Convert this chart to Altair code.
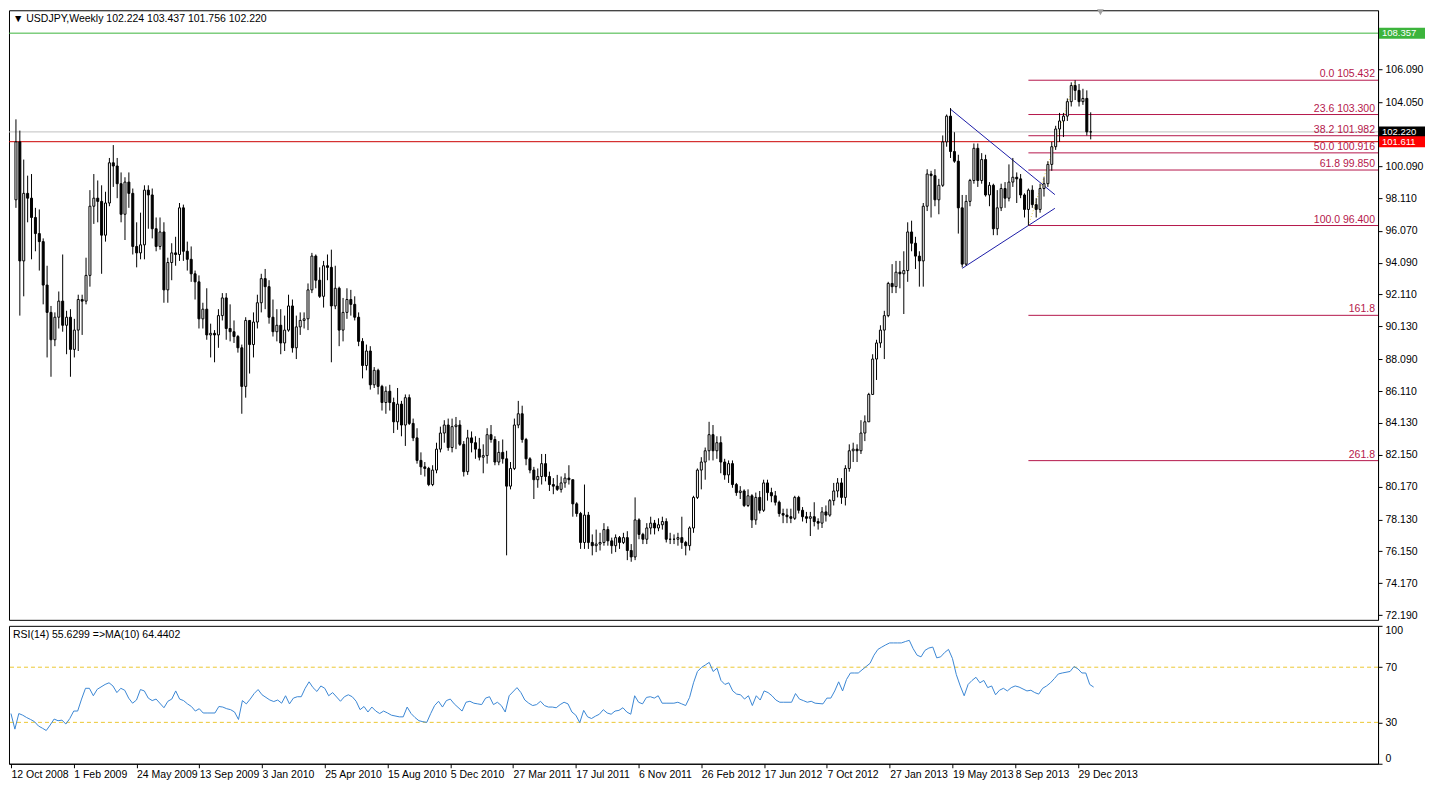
import json
import pandas as pd
import altair as alt

# ---------------- data ----------------
FIRST_OPEN = 98.0
close = [
    101.6, 94.2, 98.4, 98.1, 96.9, 95.9, 95.4, 92.7, 91.0, 89.3,
    90.7, 91.7, 90.2, 90.7, 88.7, 89.9, 91.8, 91.7, 93.3, 97.6,
    98.1, 97.9, 95.8, 97.8, 100.3, 100.1, 99.0, 97.1, 99.1, 98.4,
    95.1, 94.7, 95.2, 98.6, 98.3, 96.2, 95.1, 96.0, 92.4, 94.1,
    94.7, 94.6, 97.5, 94.8, 94.3, 93.4, 92.9, 90.6, 91.2, 89.6,
    89.7, 89.6, 90.8, 91.9, 90.0, 89.8, 89.5, 88.8, 86.4, 90.5,
    89.0, 90.4, 91.6, 93.1, 92.6, 90.7, 89.8, 90.2, 89.1, 89.9,
    91.4, 88.8, 90.1, 90.5, 90.6, 92.4, 94.5, 93.0, 92.0, 93.9,
    93.8, 91.4, 92.5, 89.9, 91.0, 91.8, 91.5, 90.7, 89.2, 87.7,
    88.6, 86.5, 87.4, 86.4, 85.4, 86.1, 85.4, 84.2, 85.3, 84.0,
    85.7, 84.1, 83.2, 81.8, 81.4, 81.3, 80.3, 81.2, 82.5, 83.5,
    84.0, 82.6, 83.9, 84.0, 82.8, 81.1, 83.2, 82.9, 82.5, 82.0,
    82.1, 83.4, 83.1, 81.7, 82.3, 81.9, 80.2, 81.3, 84.0, 84.7,
    83.1, 81.9, 81.2, 80.6, 80.8, 81.6, 80.8, 80.3, 80.2, 80.0,
    80.4, 80.7, 80.6, 79.1, 78.5, 76.7, 78.4, 76.7, 76.5, 76.6,
    76.7, 77.5, 76.8, 76.5, 77.0, 76.7, 77.0, 76.2, 75.8, 78.1,
    77.2, 76.9, 77.6, 77.9, 77.6, 77.8, 78.0, 76.9, 76.9, 76.9,
    77.0, 76.7, 76.5, 77.6, 79.5, 81.2, 81.7, 82.4, 83.4, 82.4,
    82.9, 81.7, 80.9, 81.6, 80.3, 79.8, 79.9, 79.0, 79.6, 78.1,
    79.5, 78.7, 80.4, 79.8, 79.6, 79.2, 78.5, 78.4, 78.3, 78.2,
    79.5, 78.7, 78.3, 78.2, 78.3, 78.0, 77.9, 78.6, 78.4, 79.3,
    79.9, 80.4, 79.5, 81.3, 82.4, 82.5, 82.4, 83.5, 84.2, 85.9,
    88.1, 89.1, 89.9, 90.8, 92.8, 92.6, 93.5, 93.4, 93.6, 96.0,
    95.3, 94.5, 94.2, 97.6, 99.6, 99.5, 98.0, 98.9, 101.6, 103.2,
    101.0, 100.4, 97.5, 94.0, 97.9, 99.2, 101.2, 99.2, 100.5, 98.3,
    98.9, 96.2, 97.5, 98.7, 98.1, 99.1, 99.4, 99.3, 98.3, 97.4,
    98.6, 97.7, 97.4, 98.7, 99.0, 100.2, 101.3, 102.4, 102.9, 103.2,
    104.1, 105.1, 104.8, 104.1, 104.3, 102.224, 102.220,
]
high = [
    103.0, 102.3, 100.5, 99.5, 99.6, 97.5, 97.4, 95.6, 93.9, 91.4,
    91.0, 92.3, 94.6, 91.1, 91.2, 90.6, 92.1, 92.1, 94.4, 98.6,
    99.6, 99.2, 98.9, 98.5, 100.6, 101.4, 100.6, 99.7, 99.4, 99.7,
    98.7, 96.6, 97.2, 98.9, 98.9, 98.7, 96.9, 96.9, 96.6, 94.4,
    95.3, 95.7, 97.8, 97.7, 95.4, 95.1, 93.6, 93.3, 91.6, 92.5,
    90.3, 89.9, 91.2, 92.2, 92.2, 91.5, 90.5, 89.6, 89.0, 90.7,
    90.5, 91.0, 92.1, 93.4, 93.7, 93.0, 91.8, 91.2, 91.2, 90.8,
    92.1, 91.8, 90.8, 91.0, 91.0, 92.8, 94.7, 94.6, 93.8, 94.2,
    94.6, 94.9, 93.9, 92.6, 91.9, 92.5, 92.4, 92.0, 91.0, 89.4,
    89.0, 88.9, 87.6, 87.5, 86.5, 86.4, 86.5, 85.7, 86.3, 85.5,
    85.9, 85.9, 84.4, 83.8, 82.3, 81.7, 81.4, 81.5, 82.9, 83.9,
    84.3, 84.4, 84.4, 84.5, 84.3, 83.0, 83.7, 83.6, 83.3, 83.2,
    82.8, 83.8, 84.0, 83.3, 83.0, 83.1, 82.4, 81.7, 84.4, 85.5,
    85.2, 83.2, 82.0, 81.4, 81.3, 82.2, 82.2, 81.1, 80.7, 80.9,
    80.8, 81.0, 81.5, 80.6, 79.2, 78.6, 80.3, 78.6, 77.2, 77.5,
    77.3, 77.9, 77.7, 77.0, 77.2, 77.1, 77.3, 77.4, 76.6, 79.5,
    78.2, 77.3, 77.9, 78.3, 78.1, 78.2, 78.3, 78.2, 77.3, 77.2,
    77.3, 78.3, 76.8, 77.7, 79.6, 81.3, 82.0, 82.6, 84.2, 84.0,
    83.3, 83.3, 81.9, 81.8, 81.8, 80.4, 80.2, 80.0, 80.0, 79.7,
    79.8, 79.9, 80.6, 80.6, 80.1, 79.9, 79.3, 78.8, 78.8, 78.8,
    79.6, 79.6, 78.9, 78.6, 78.6, 79.2, 78.2, 78.9, 79.0, 79.4,
    80.4, 80.7, 80.7, 81.5, 82.8, 82.9, 82.8, 84.3, 84.6, 86.0,
    88.4, 89.3, 90.2, 91.1, 92.9, 94.0, 94.2, 94.2, 94.8, 96.6,
    96.7, 95.7, 94.8, 97.8, 99.9, 99.8, 99.9, 99.3, 102.0, 103.3,
    103.7, 102.2, 100.8, 98.3, 98.3, 99.3, 101.5, 101.5, 100.9, 100.8,
    99.1, 99.0, 98.6, 99.0, 99.1, 100.2, 100.6, 99.7, 99.6, 98.4,
    98.7, 98.9, 98.1, 99.0, 99.4, 100.4, 101.6, 102.6, 103.4, 103.4,
    104.3, 105.3, 105.432, 105.2, 104.9, 104.8, 103.437,
]
low = [
    97.5, 90.8, 92.0, 96.6, 94.3, 94.8, 93.6, 91.5, 88.2, 87.0,
    88.9, 90.0, 89.8, 88.4, 87.0, 88.2, 88.6, 89.6, 91.5, 92.6,
    96.5, 96.6, 93.4, 95.4, 97.6, 98.8, 98.1, 96.6, 95.5, 97.5,
    94.6, 93.8, 94.3, 94.3, 96.2, 95.6, 94.8, 94.9, 91.6, 91.6,
    93.0, 93.9, 94.2, 94.2, 93.6, 92.9, 91.8, 90.0, 90.0, 89.3,
    88.2, 87.9, 88.8, 90.5, 89.3, 89.2, 89.1, 88.5, 84.7, 85.7,
    87.2, 88.2, 90.0, 91.0, 91.2, 90.3, 89.5, 89.2, 88.4, 88.6,
    89.8, 88.5, 88.1, 89.6, 90.0, 89.9, 92.2, 92.5, 91.9, 91.3,
    93.0, 87.9, 91.2, 88.9, 89.2, 90.6, 90.8, 90.5, 88.9, 86.9,
    87.4, 86.2, 86.3, 85.9, 84.9, 84.7, 84.9, 83.5, 83.7, 83.3,
    82.7, 84.0, 83.0, 81.6, 80.9, 80.8, 80.2, 80.2, 81.0, 82.3,
    82.9, 82.4, 82.3, 82.5, 82.7, 80.8, 80.9, 82.3, 81.9, 81.8,
    81.0, 81.6, 82.9, 81.5, 81.5, 81.6, 75.9, 80.0, 81.2, 83.8,
    82.9, 81.5, 81.0, 79.4, 80.1, 80.3, 80.5, 79.9, 79.7, 79.9,
    79.8, 80.1, 80.3, 78.3, 78.3, 76.3, 76.3, 76.3, 75.9, 76.1,
    76.2, 76.5, 76.5, 76.0, 76.1, 76.3, 76.6, 75.6, 75.5, 75.6,
    76.9, 76.6, 76.6, 77.2, 77.2, 77.4, 77.5, 76.7, 76.6, 76.6,
    76.5, 76.3, 75.9, 76.2, 77.3, 79.4, 80.0, 80.6, 81.8, 81.8,
    81.9, 81.0, 80.6, 80.4, 80.1, 79.6, 79.4, 78.9, 78.9, 77.6,
    77.8, 78.5, 78.6, 79.3, 79.2, 79.0, 78.3, 77.9, 77.9, 77.9,
    78.1, 78.5, 78.0, 77.9, 77.1, 77.7, 77.5, 77.6, 78.0, 78.3,
    79.0, 79.5, 79.1, 79.0, 81.1, 81.7, 81.7, 82.2, 83.0, 84.2,
    85.9, 86.8, 88.8, 88.1, 90.7, 92.2, 92.2, 92.5, 90.9, 92.9,
    94.8, 93.7, 92.6, 92.6, 97.3, 96.9, 97.6, 97.1, 98.8, 101.3,
    100.6, 100.3, 95.9, 93.8, 93.9, 97.6, 99.0, 98.8, 99.0, 98.2,
    97.6, 95.8, 95.8, 97.3, 97.5, 97.9, 98.8, 97.8, 98.1, 96.9,
    96.4, 97.5, 96.9, 97.2, 98.2, 98.8, 99.8, 101.1, 101.6, 101.9,
    102.9, 103.8, 104.2, 103.8, 103.9, 102.0, 101.756,
]

rsi_week = [
    0, 1, 2, 3, 4, 5, 6, 7, 8, 9, 10, 11, 12, 13, 14, 15, 16, 17, 18, 19,
    20, 21, 22, 24, 25, 26, 27, 28, 29, 30, 31, 32, 33, 34, 35, 36, 37, 39, 40, 41,
    42, 43, 44, 45, 46, 47, 48, 49, 50, 52, 53, 54, 55, 56, 57, 58, 59, 60, 61, 62,
    63, 64, 66, 67, 68, 69, 70, 71, 72, 73, 74, 75, 76, 77, 78, 79, 80, 81, 82, 84,
    85, 86, 87, 88, 89, 90, 91, 92, 93, 94, 95, 96, 97, 99, 100, 101, 102, 103, 104, 105,
    106, 107, 108, 109, 110, 111, 112, 113, 115, 116, 117, 118, 119, 120, 121, 122, 123, 124, 125, 126,
    127, 129, 130, 131, 132, 133, 134, 135, 136, 137, 138, 139, 140, 141, 142, 143, 144, 145, 146, 147,
    148, 149, 150, 151, 152, 153, 154, 155, 156, 157, 158, 159, 160, 161, 162, 163, 164, 165, 166, 167,
    169, 170, 171, 172, 173, 174, 175, 176, 177, 178, 179, 180, 181, 182, 183, 184, 185, 186, 187, 188,
    189, 190, 191, 192, 193, 194, 195, 196, 197, 199, 200, 201, 202, 203, 204, 205, 207, 208, 209, 210,
    211, 212, 213, 214, 215, 216, 218, 219, 220, 221, 222, 223, 224, 225, 226, 227, 228, 229, 230, 231,
    232, 233, 234, 235, 236, 237, 238, 239, 240, 241, 242, 243, 244, 245, 246, 247, 248, 249, 250, 251,
    252, 253, 254, 255, 256, 257, 259, 260, 261, 262, 263, 264, 265, 266, 267, 268, 270, 271, 272, 273,
    274, 275, 276,
]
rsi_value = [
    36.4, 25.1, 36.4, 35.2, 33.5, 32.1, 30.5, 27.4, 25.8, 24.1, 28.1, 32.4, 31.2, 31.6, 28.8, 32.8, 38.2, 38.2, 46.9, 54.7,
    54.7, 49.3, 54.0, 57.5, 58.7, 56.4, 51.6, 54.7, 53.3, 47.6, 43.9, 46.2, 53.8, 52.8, 47.6, 45.8, 46.9, 40.6, 45.3, 46.9,
    52.8, 46.9, 45.8, 43.4, 41.5, 38.2, 39.9, 36.8, 36.8, 36.8, 41.5, 41.1, 39.9, 39.2, 37.5, 32.1, 45.8, 43.4, 46.9, 50.9,
    53.8, 50.0, 46.2, 45.1, 46.2, 43.9, 49.3, 43.4, 47.6, 48.6, 48.6, 54.7, 59.4, 55.2, 52.4, 56.4, 54.7, 49.3, 51.6, 45.3,
    48.6, 50.0, 48.6, 45.3, 39.2, 41.5, 37.5, 41.1, 38.2, 36.4, 38.2, 36.8, 35.2, 34.0, 34.0, 41.1, 36.4, 33.5, 31.2, 30.5,
    30.0, 36.4, 42.2, 45.3, 41.1, 45.8, 46.9, 43.4, 38.2, 44.6, 45.3, 43.9, 43.4, 42.9, 47.6, 48.6, 42.9, 44.6, 42.2, 37.5,
    49.3, 55.2, 51.6, 46.2, 43.9, 42.2, 42.9, 45.3, 42.2, 41.1, 41.1, 40.6, 42.9, 44.6, 43.4, 37.5, 35.2, 29.8, 38.7, 34.0,
    32.8, 34.5, 35.9, 39.2, 36.8, 35.9, 38.2, 38.7, 40.6, 37.5, 35.9, 49.3, 44.6, 43.4, 48.1, 48.6, 47.6, 49.3, 43.9, 43.9,
    43.9, 44.6, 43.4, 42.2, 48.1, 58.7, 66.9, 69.8, 71.6, 73.5, 66.9, 69.3, 60.4, 57.5, 58.7, 52.8, 50.5, 50.0, 46.9, 49.3,
    42.2, 49.3, 46.2, 52.8, 51.6, 49.3, 46.2, 44.6, 44.6, 44.6, 50.9, 46.9, 45.8, 44.6, 45.3, 43.9, 43.4, 47.6, 47.6, 52.8,
    59.4, 52.8, 61.1, 65.8, 65.8, 65.8, 70.5, 72.8, 78.7, 82.9, 84.6, 86.2, 87.6, 87.6, 87.6, 87.6, 88.6, 89.5, 83.4, 78.7,
    77.5, 82.2, 83.9, 84.6, 76.8, 77.5, 80.6, 82.9, 76.4, 64.6, 56.4, 49.3, 57.5, 60.4, 62.7, 58.7, 60.4, 55.2, 56.4, 50.0,
    53.3, 54.7, 52.8, 55.2, 56.4, 55.6, 52.8, 53.3, 51.6, 50.5, 54.7, 56.4, 58.7, 61.8, 65.1, 65.8, 66.9, 70.5, 68.8, 65.8,
    65.8, 57.5, 55.6,
]

date_labels = [
    "12 Oct 2008", "1 Feb 2009", "24 May 2009", "13 Sep 2009", "3 Jan 2010",
    "25 Apr 2010", "15 Aug 2010", "5 Dec 2010", "27 Mar 2011", "17 Jul 2011",
    "6 Nov 2011", "26 Feb 2012", "17 Jun 2012", "7 Oct 2012", "27 Jan 2013",
    "19 May 2013", "8 Sep 2013", "29 Dec 2013",
]
date_label_weeks = [0, 16, 32, 48, 64, 80, 96, 112, 128, 144, 160, 176, 192, 208, 224, 240, 256, 272]
# 102.070 and 108.070 are hidden under the price tags in the reference
price_ticks = [72.19, 74.17, 76.15, 78.13, 80.17, 82.15, 84.13, 86.11, 88.09, 90.13,
               92.11, 94.09, 96.07, 98.11, 100.09, 104.05, 106.09]
rsi_ticks = [0, 30, 70, 100]
rsi_levels = [30, 70]

fib_prices = [105.432, 103.300, 101.982, 100.916, 99.850, 96.400, 90.818, 81.786]
fib_texts = ["0.0 105.432", "23.6 103.300", "38.2 101.982", "50.0 100.916",
             "61.8 99.850", "100.0 96.400", "161.8", "261.8"]
fib_start_week = [260] * 8

hline_prices = [108.357, 102.220, 101.611]
hline_colors = ["#3cb43c", "#c0c0c0", "#cc0000"]
tag_texts = ["108.357", "102.220", "101.611"]
tag_colors = ["#3cb43c", "#000000", "#ff0000"]

tri_upper_week = [240, 266.8]
tri_upper_price = [103.63, 98.32]
tri_lower_week = [243, 266.8]
tri_lower_price = [93.74, 97.47]
fib_trend_week = [260, 272]
fib_trend_price = [96.40, 105.432]

header = "\u25BC  USDJPY,Weekly  102.224 103.437 101.756 102.220"
rsi_header = "RSI(14) 55.6299  =>MA(10) 64.4402"

# ---------------- layout ----------------
W = 1370
HM = 610
HR = 138
FONT = "Liberation Sans"
FIB_COLOR = "#b5174b"

xs = alt.Scale(domain=[-0.5, 348.5], nice=False, zero=False)
ys = alt.Scale(domain=[71.89, 109.78], nice=False, zero=False)
rs = alt.Scale(domain=[0, 100], nice=False, zero=False)

y_axis = alt.Axis(orient="right", values=price_ticks, format=".3f", tickSize=4,
                  labelPadding=3, title=None, grid=False, labelOverlap=False)
X = lambda f: alt.X(f, type="quantitative", scale=xs, axis=None)
Y = lambda f: alt.Y(f, type="quantitative", scale=ys, axis=y_axis)

candles = pd.DataFrame({
    "week": list(range(len(close))),
    "open": [FIRST_OPEN] + close[:-1],
    "high": high,
    "low": low,
    "close": close,
})

hl = pd.DataFrame({"price": hline_prices, "color": hline_colors,
                   "tag": tag_texts, "tagcolor": tag_colors})
fib = pd.DataFrame({"price": fib_prices, "text": fib_texts, "week": fib_start_week})

hlines = alt.Chart(hl).mark_rule(strokeWidth=1).encode(
    y=Y("price"), color=alt.Color("color:N", scale=None))

fib_rules = alt.Chart(fib).mark_rule(strokeWidth=1, color=FIB_COLOR).encode(
    x=X("week"), x2=alt.value(W), y=Y("price"))
fib_labels = alt.Chart(fib).mark_text(
    align="right", baseline="bottom", dy=-1, color=FIB_COLOR, font=FONT, fontSize=10.5
).encode(x=alt.value(W - 3), y=Y("price"), text="text:N")

tri_df = pd.DataFrame({
    "week": tri_upper_week + tri_lower_week,
    "price": tri_upper_price + tri_lower_price,
    "line": ["upper", "upper", "lower", "lower"],
})
tri = alt.Chart(tri_df).mark_line(color="#1c1ca8", strokeWidth=1).encode(
    x=X("week"), y=Y("price"), detail="line:N")

ft_df = pd.DataFrame({"week": fib_trend_week, "price": fib_trend_price})
fib_trend = alt.Chart(ft_df).mark_line(color="#e3cf4f", strokeWidth=1, strokeDash=[1, 2]).encode(
    x=X("week"), y=Y("price"))

wicks = alt.Chart(candles).mark_rule(color="black", strokeWidth=1).encode(
    x=X("week"), y=Y("low"), y2="high")
bodies = alt.Chart(candles).mark_bar(size=2, stroke="black", strokeWidth=1).encode(
    x=X("week"), y=Y("open"), y2="close",
    fill=alt.condition("datum.close >= datum.open", alt.value("white"), alt.value("black")))

tags = alt.Chart(hl).mark_tick(orient="horizontal", size=46, thickness=11, opacity=1).encode(
    x=alt.value(W + 24), y=Y("price"), color=alt.Color("tagcolor:N", scale=None))
tag_labels = alt.Chart(hl).mark_text(
    align="left", baseline="middle", color="white", font=FONT, fontSize=9.5
).encode(x=alt.value(W + 4), y=Y("price"), text="tag:N")

head = alt.Chart(pd.DataFrame({"t": [header]})).mark_text(
    align="left", baseline="top", font=FONT, fontSize=10.5, color="black"
).encode(x=alt.value(4), y=alt.value(4), text="t:N")

marker = alt.Chart(pd.DataFrame({"week": [278.5]})).mark_point(
    shape="triangle-down", filled=True, color="#a0a0a0", size=45, opacity=1
).encode(x=X("week"), y=alt.value(2))

main = alt.layer(hlines, fib_rules, fib_labels, tri, fib_trend, wicks, bodies,
                 tags, tag_labels, head, marker).properties(width=W, height=HM)

# ---------------- RSI panel ----------------
label_expr = json.dumps(date_labels) + "[round(datum.value / 16)]"
x_axis = alt.Axis(values=date_label_weeks, labelExpr=label_expr, labelAlign="left",
                  tickSize=4, labelPadding=2, title=None, grid=False,
                  labelOverlap=False, labelFlush=False)
r_axis = alt.Axis(orient="right", values=rsi_ticks, format="d", tickSize=4,
                  labelPadding=3, title=None, grid=False, labelFlush=True)

rsi_df = pd.DataFrame({"week": rsi_week, "rsi": rsi_value})
lev = alt.Chart(pd.DataFrame({"lvl": rsi_levels})).mark_rule(
    color="#ecc832", strokeWidth=1, strokeDash=[4, 3]
).encode(y=alt.Y("lvl:Q", scale=rs, axis=r_axis))
rsi_line = alt.Chart(rsi_df).mark_line(color="#3b87d4", strokeWidth=1).encode(
    x=alt.X("week:Q", scale=xs, axis=x_axis),
    y=alt.Y("rsi:Q", scale=rs, axis=r_axis))
rsi_head = alt.Chart(pd.DataFrame({"t": [rsi_header]})).mark_text(
    align="left", baseline="top", font=FONT, fontSize=10.5, color="black"
).encode(x=alt.value(4), y=alt.value(4), text="t:N")

rsi = alt.layer(lev, rsi_line, rsi_head).properties(width=W, height=HR)

chart = alt.vconcat(main, rsi, spacing=3).properties(
    padding={"left": 0, "top": 0, "right": 0, "bottom": 0},
    background="white",
).configure_view(stroke="black", strokeWidth=1).configure_axis(
    labelFont=FONT, labelFontSize=10.5, labelColor="black",
    tickColor="black", domainColor="black", domainWidth=1,
)

chart.save("out.html", embed_options={"renderer": "svg", "actions": False})
